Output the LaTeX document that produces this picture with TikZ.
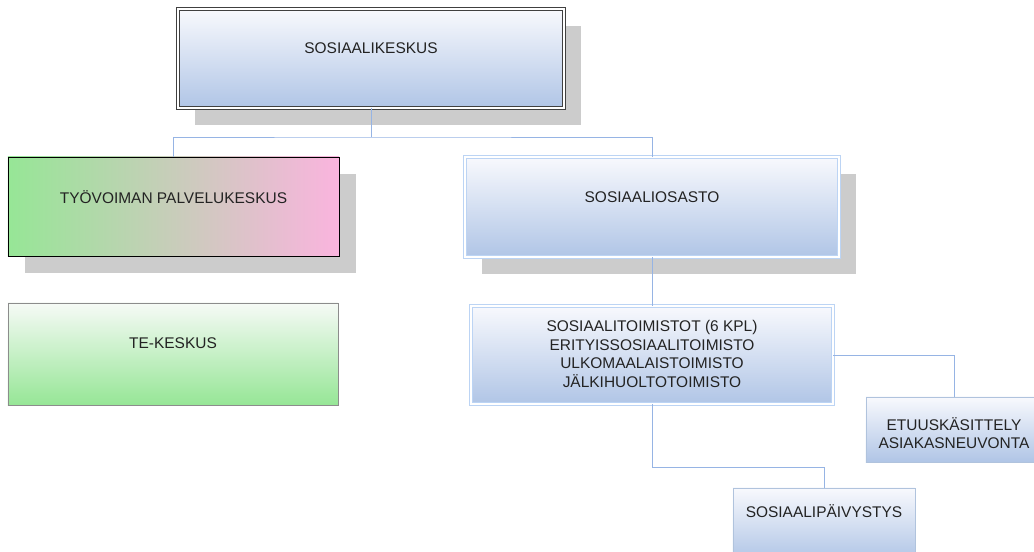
\documentclass[tikz,border=0pt]{standalone}
\usepackage{fontspec}
\setmainfont{Liberation Sans}
\usetikzlibrary{shadows}
\definecolor{shadowgray}{RGB}{204,204,204}
\definecolor{bluetop}{RGB}{248,249,253}
\definecolor{bluebot}{RGB}{176,197,230}
\definecolor{blueline}{RGB}{188,212,244}
\definecolor{linkblue}{RGB}{150,180,228}
\definecolor{greentop}{RGB}{246,250,246}
\definecolor{greenbot}{RGB}{150,230,150}
\definecolor{pinkright}{RGB}{250,180,222}
\definecolor{textgray}{RGB}{35,35,35}
\tikzset{
  box/.style={rectangle,inner sep=0pt,outer sep=0pt,top color=bluetop,bottom color=bluebot},
  shade/.style={drop shadow={shadow xshift=0.425cm,shadow yshift=-0.425cm,fill=shadowgray,opacity=1}},
  txt/.style={font=\fontsize{11}{13.2}\selectfont,text=textgray,align=center},
  conn/.style={draw=linkblue,line width=0.6pt}
}
\begin{document}
\begin{tikzpicture}[x=0.025cm,y=-0.025cm]
  \useasboundingbox (0,0) rectangle (1034,552);
  % draw top unit
  \node at(371,58.5)[box,shade,draw=black!75,double=white,double distance=1.3pt,line width=0.5pt,minimum width=9.65cm,minimum height=2.475cm](keskus){};
  \node at(371,48)[txt](keskustext){SOSIAALIKESKUS};
  % draw employment office
  \node at(173.5,206.5)[rectangle,inner sep=0pt,outer sep=0pt,shade,left color=greenbot,right color=pinkright,draw=black,line width=0.6pt,minimum width=8.275cm,minimum height=2.475cm](tyovoima){};
  \node at(173.5,197)[txt](tyovoimatext){TYÖVOIMAN PALVELUKESKUS};
  % draw TE centre
  \node at(173,354)[rectangle,inner sep=0pt,outer sep=0pt,top color=greentop,bottom color=greenbot,draw=black!45,line width=0.6pt,minimum width=8.25cm,minimum height=2.55cm](te){};
  \node at(173,343)[txt](tetext){TE-KESKUS};
  % draw social department
  \node at(652,207)[box,shade,draw=blueline,double=white,double distance=1.2pt,line width=0.6pt,minimum width=9.35cm,minimum height=2.5cm](osasto){};
  \node at(652,197)[txt](osastotext){SOSIAALIOSASTO};
  % draw offices
  \node at(652,355)[box,draw=blueline,double=white,double distance=1.2pt,line width=0.6pt,minimum width=9.05cm,minimum height=2.45cm](toimistot){};
  \node at(652,354)[txt](toimistottext){SOSIAALITOIMISTOT (6 KPL)\\ERITYISSOSIAALITOIMISTO\\ULKOMAALAISTOIMISTO\\JÄLKIHUOLTOTOIMISTO};
  % draw benefits
  \node at(954,429.5)[box,draw=blueline!80!gray,line width=0.5pt,minimum width=4.4cm,minimum height=1.625cm](etuus){};
  \node at(954,433)[txt](etuustext){ETUUSKÄSITTELY\\ASIAKASNEUVONTA};
  % draw emergency service
  \node at(824,524)[box,draw=blueline!80!gray,line width=0.5pt,minimum width=4.55cm,minimum height=1.8cm](paivystys){};
  \node at(824,511)[txt](paivystystext){SOSIAALIPÄIVYSTYS};
  % draw connectors
  \coordinate (split) at (373,137);
  \coordinate (bend) at (824,467);
  \draw[conn] (keskus.south) -- (keskus.south |- split);
  \draw[conn] (tyovoima.north) |- (split) -| (osasto.north);
  \draw[conn] (osasto.south) -- (toimistot.north);
  \draw[conn] (toimistot.east) -| (etuus.north);
  \draw[conn] (toimistot.south) |- (bend) -- (paivystys.north);
\end{tikzpicture}
\end{document}
